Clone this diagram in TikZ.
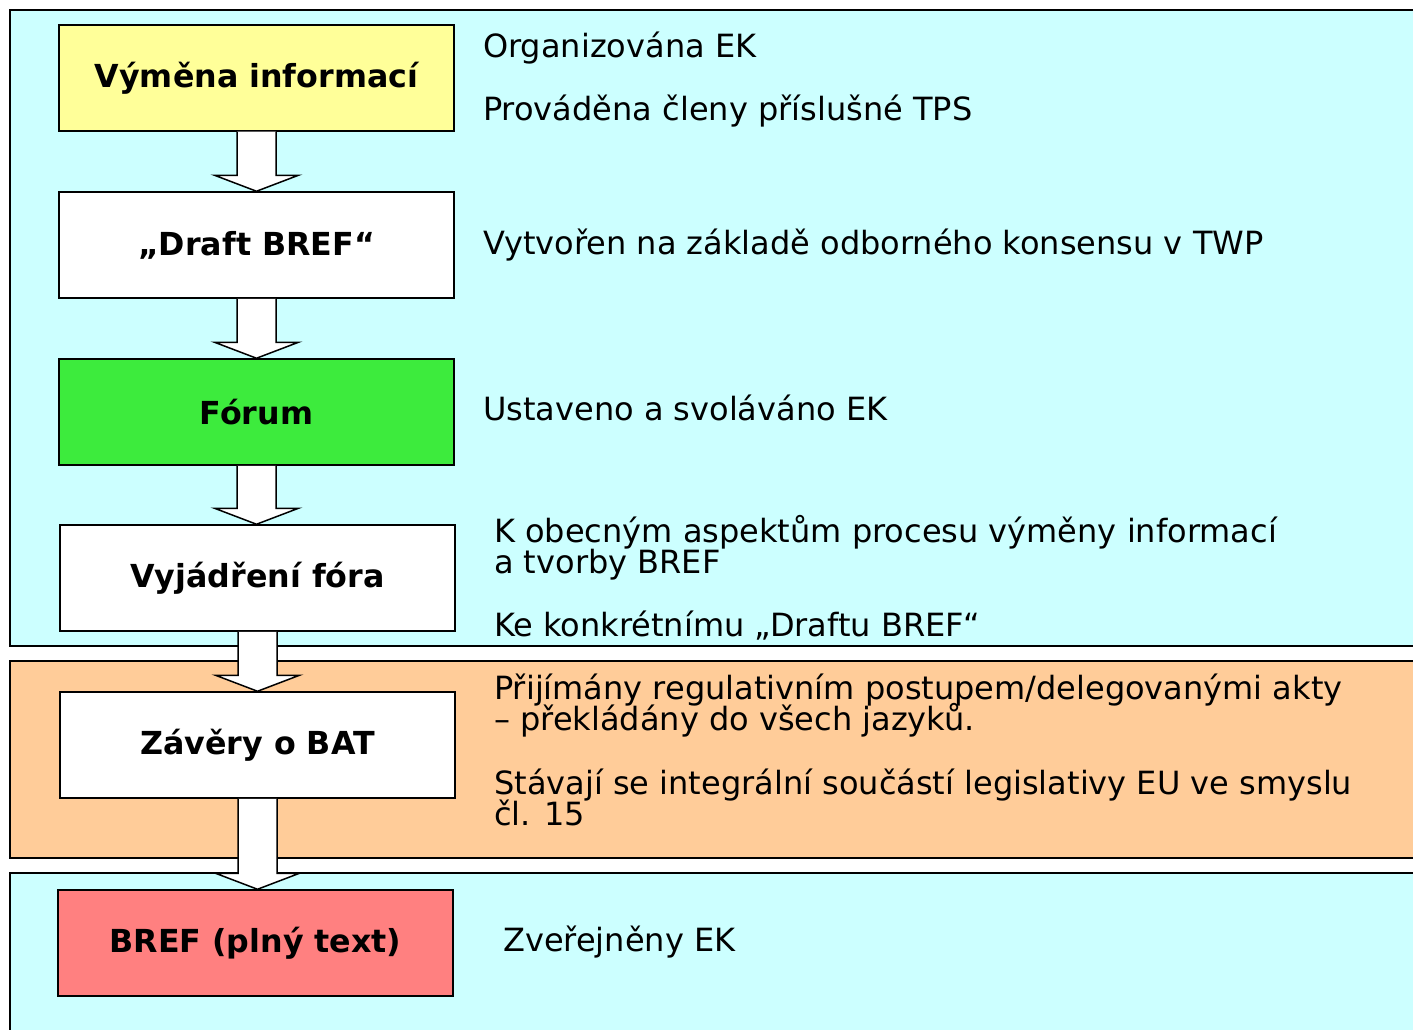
\documentclass[tikz,border=0pt]{standalone}
\usepackage{fontspec}
\setmainfont{DejaVu Sans}
\usetikzlibrary{calc}

\definecolor{panelcyan}{HTML}{CCFFFF}
\definecolor{panelorange}{HTML}{FFCC99}
\definecolor{boxyellow}{HTML}{FFFF99}
\definecolor{boxgreen}{HTML}{3DEB3D}
\definecolor{boxred}{HTML}{FF8080}

\newcommand{\notefont}{\fontsize{32}{31}\selectfont\lineskiplimit-100pt\relax}

% block arrow from the bottom of one box to the top of the next
\newcommand{\flowarrow}[2]{%
  \draw[fill=white, line width=1.5pt] let \p1=(#1.south), \p2=(#2.north) in
    (\x1-19.5pt,\y1) -- (\x1-19.5pt,\y2+16pt) -- (\x1-42pt,\y2+16pt) -- (\x1,\y2)
    -- (\x1+42pt,\y2+16pt) -- (\x1+19.5pt,\y2+16pt) -- (\x1+19.5pt,\y1);}

\begin{document}
\begin{tikzpicture}[x=1pt,y=-1pt,
    panel/.style={draw=black, line width=1.5pt},
    box/.style={draw=black, line width=1.5pt, minimum width=395pt, minimum height=106pt,
      inner sep=0pt, font=\fontsize{31.7}{36}\selectfont\bfseries},
    note/.style={anchor=base west, inner sep=0pt, align=left, font=\notefont}]
    \useasboundingbox (0,0) rectangle (1413,1030);
    \fill[white] (0,0) rectangle (1413,1030);
    \clip (0,0) rectangle (1413,1030);

    % background panels
    \draw[panel, fill=panelcyan] (10,10) rectangle (1440,646);
    \draw[panel, fill=panelorange] (10,661) rectangle (1440,858);
    \draw[panel, fill=panelcyan] (10,873) rectangle (1440,1060);

    % boxes
    \node[box, fill=boxyellow] (info) at (256.5,78) {Výměna informací};
    \node[box, fill=white] (draft) at (256.5,245) {„Draft BREF“};
    \node[box, fill=boxgreen] (forum) at (256.5,412) {Fórum};
    \node[box, fill=white] (opinion) at (257.5,578) {Vyjádření fóra};
    \node[box, fill=white] (bat) at (257.5,745) {Závěry o BAT};
    \node[box, fill=boxred] (bref) at (255.5,943) {BREF (plný text)};

    % arrows
    \flowarrow{info}{draft}
    \flowarrow{draft}{forum}
    \flowarrow{forum}{opinion}
    \flowarrow{opinion}{bat}
    \flowarrow{bat}{bref}

    % notes on the right (base = last line)
    \node[note] (organized) at (483,58) {Organizována EK};
    \node[note] (performed) at (483,121) {Prováděna členy příslušné TPS};
    \node[note] (created) at (483,254) {Vytvořen na základě odborného konsensu v TWP};
    \node[note] (convened) at (483,420) {Ustaveno a svoláváno EK};
    \node[note] (aspects) at (494,636) {K obecným aspektům procesu výměny informací\\a tvorby BREF\\[32pt]Ke konkrétnímu „Draftu BREF“};
    \node[note] (adopted) at (494,825) {Přijímány regulativním postupem/delegovanými akty\\– překládány do všech jazyků.\\[33pt]Stávají se integrální součástí legislativy EU ve smyslu\\čl. 15};
    \node[note] (published) at (503,951) {Zveřejněny EK};
\end{tikzpicture}
\end{document}
